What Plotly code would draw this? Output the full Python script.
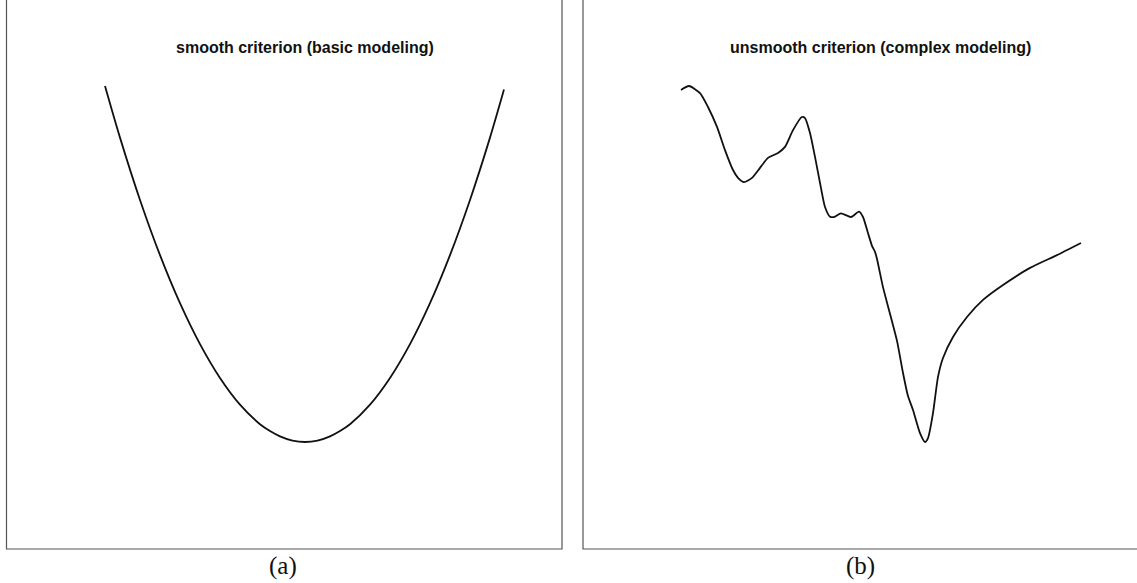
import plotly.graph_objects as go

# ---- data ----
# (a) smooth criterion: parameter vs criterion value
smooth_theta = [-1.0, -0.925, -0.825, -0.725, -0.625, -0.525, -0.425, -0.325, -0.225, -0.175,
                -0.125, -0.0625, 0.0, 0.0625, 0.125, 0.175, 0.225, 0.325, 0.425, 0.525, 0.625,
                0.725, 0.825, 0.925, 0.995]
smooth_crit = [1.0, 0.855, 0.68, 0.525, 0.39, 0.275, 0.18, 0.105, 0.05, 0.031,
               0.016, 0.004, 0.0, 0.004, 0.016, 0.031, 0.05, 0.105, 0.18, 0.275, 0.39,
               0.525, 0.68, 0.855, 0.99]

# (b) unsmooth criterion
rough_theta = [0.0, 0.2, 0.475, 0.675, 0.9, 1.1, 1.3, 1.425, 1.575, 1.775, 1.975, 2.175,
               2.425, 2.6, 2.8, 3.02, 3.1, 3.225, 3.35, 3.475, 3.6, 3.725, 3.825, 4.0,
               4.25, 4.45, 4.55, 4.675, 4.775, 4.85, 4.9, 5.05, 5.225, 5.4, 5.55, 5.675,
               5.8, 5.975, 6.1, 6.175, 6.3, 6.425, 6.55, 6.8, 7.15, 7.55, 8.05, 8.725,
               9.4, 10.0]
rough_crit = [0.989, 1.0, 0.980, 0.941, 0.885, 0.820, 0.764, 0.742, 0.730, 0.742, 0.770, 0.798,
              0.812, 0.829, 0.876, 0.913, 0.910, 0.868, 0.801, 0.728, 0.660, 0.633, 0.632, 0.642,
              0.632, 0.647, 0.632, 0.587, 0.551, 0.534, 0.514, 0.435, 0.360, 0.284, 0.194, 0.129,
              0.090, 0.025, 0.0, 0.011, 0.081, 0.183, 0.236, 0.295, 0.351, 0.399, 0.441, 0.489,
              0.525, 0.559]

titles = ["smooth criterion (basic modeling)", "unsmooth criterion (complex modeling)"]
captions = ["(a)", "(b)"]

W, H = 1137, 583

fig = go.Figure()
fig.add_trace(go.Scatter(x=smooth_theta, y=smooth_crit, mode="lines",
                         line=dict(color="#111111", width=1.8, shape="spline", smoothing=0.8),
                         xaxis="x", yaxis="y", showlegend=False, hoverinfo="skip"))
fig.add_trace(go.Scatter(x=rough_theta, y=rough_crit, mode="lines",
                         line=dict(color="#111111", width=1.8, shape="spline", smoothing=0.6),
                         xaxis="x2", yaxis="y2", showlegend=False, hoverinfo="skip"))

ybot = (H - 549) / H
axis_common = dict(showgrid=False, zeroline=False, showticklabels=False, showline=False, ticks="")
fig.update_layout(
    width=W, height=H,
    margin=dict(l=0, r=0, t=0, b=0),
    paper_bgcolor="white", plot_bgcolor="white",
    xaxis=dict(domain=[6.5 / W, 562 / W], range=[-1.4925, 1.285], **axis_common),
    yaxis=dict(domain=[ybot, 1], range=[-0.3006, 1.2416], **axis_common),
    xaxis2=dict(domain=[583 / W, 1], range=[-2.45, 11.4], **axis_common),
    yaxis2=dict(domain=[ybot, 1], range=[-0.3006, 1.2416], anchor="x2", **axis_common),
)

box_line = dict(color="#555555", width=1.2)
fig.add_shape(type="rect", xref="paper", yref="paper", x0=6.5 / W, x1=562 / W,
              y0=ybot, y1=1.01, line=box_line, fillcolor="rgba(0,0,0,0)")
fig.add_shape(type="rect", xref="paper", yref="paper", x0=583 / W, x1=1.01,
              y0=ybot, y1=1.01, line=box_line, fillcolor="rgba(0,0,0,0)")

title_font = dict(family="Liberation Sans", size=16, color="#111111")
fig.add_annotation(text="<b>%s</b>" % titles[0], xref="paper", yref="paper",
                   x=305 / W, y=(H - 48) / H, showarrow=False, font=title_font,
                   xanchor="center", yanchor="middle")
fig.add_annotation(text="<b>%s</b>" % titles[1], xref="paper", yref="paper",
                   x=880 / W, y=(H - 48) / H, showarrow=False, font=title_font,
                   xanchor="center", yanchor="middle")

cap_font = dict(family="Liberation Serif", size=25, color="#111111")
fig.add_annotation(text=captions[0], xref="paper", yref="paper", x=283 / W, y=(H - 566) / H,
                   showarrow=False, font=cap_font, xanchor="center", yanchor="middle")
fig.add_annotation(text=captions[1], xref="paper", yref="paper", x=860 / W, y=(H - 566) / H,
                   showarrow=False, font=cap_font, xanchor="center", yanchor="middle")

fig.write_html("out.html", config={"displayModeBar": False},
               post_script="document.body.style.margin='0';document.body.style.padding='0';")
